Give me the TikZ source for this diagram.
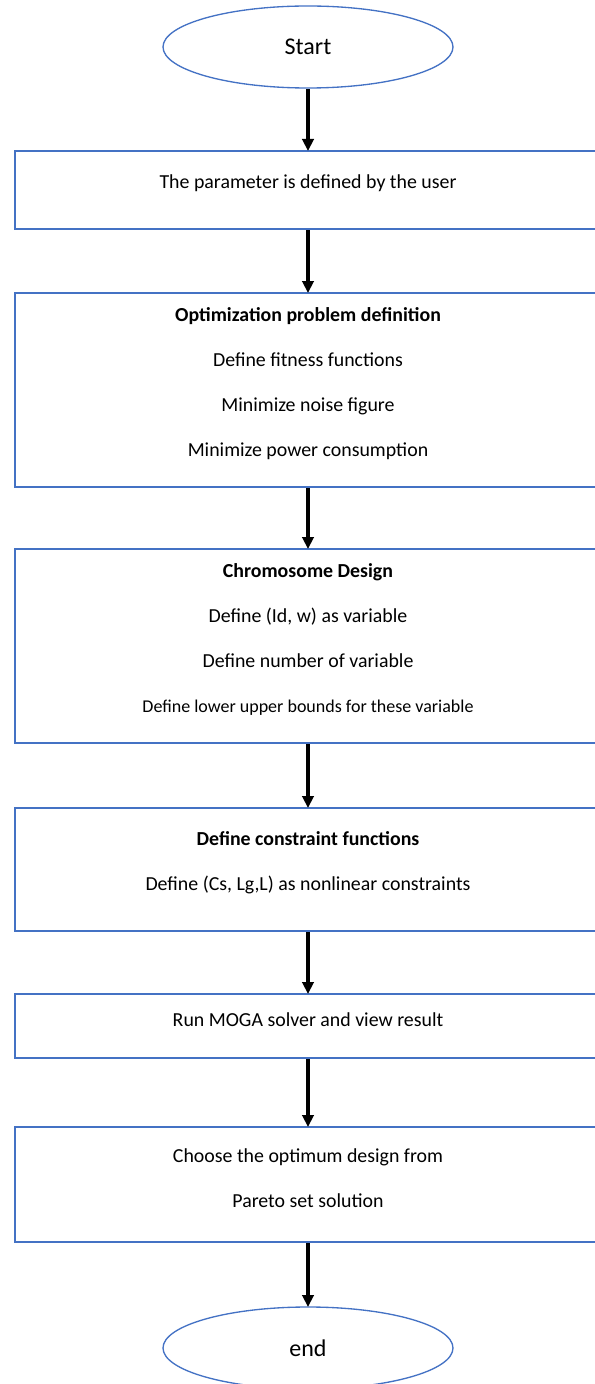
\documentclass[tikz,border=0pt]{standalone}
\usepackage{fontspec}
\setmainfont{Carlito}
\usetikzlibrary{arrows.meta,positioning,shapes.geometric}
\definecolor{boxblue}{HTML}{4472C4}

\begin{document}
\begin{tikzpicture}[node distance=47pt, every node/.style={font=\fontsize{14.9}{33.75}\selectfont},
 term/.style={draw=boxblue,ellipse,line width=1pt,outer sep=0pt,minimum width=217.5pt,minimum height=61.5pt,inner sep=0pt,font=\fontsize{18}{20}\selectfont},
 stepbox/.style={draw=boxblue,line width=1.2pt,outer sep=0pt,minimum width=439.5pt},
 txt/.style={align=center,inner sep=0pt,yshift=5pt},
 arr/.style={line width=2.8pt,shorten <=1pt,-{Triangle[width=8.5pt,length=9pt]}}]
\useasboundingbox (-231pt,35.25pt) rectangle (215.25pt,-1002.75pt);
\clip (-231pt,35.25pt) rectangle (215.25pt,-1002.75pt);
\node[term] (start) {Start};
\node[stepbox,below=47.25pt of start,minimum height=58.5pt] (user) {};
\node[stepbox,below=48pt of user,minimum height=145.5pt] (optim) {};
\node[stepbox,below=46.5pt of optim,minimum height=145.5pt] (chrom) {};
\node[stepbox,below=48.75pt of chrom,minimum height=92.25pt] (constr) {};
\node[stepbox,below=47.25pt of constr,minimum height=48pt] (moga) {};
\node[stepbox,below=51.75pt of moga,minimum height=86.25pt] (pareto) {};
\node[term,below=48.75pt of pareto] (end) {end};
% box texts
\node[txt] (usertxt) at (user) {The parameter is defined by the user};
\node[txt] (optimtxt) at (optim) {\textbf{Optimization problem definition}\\
 Define fitness functions\\ Minimize noise figure\\ Minimize power consumption};
\node[txt] (chromtxt) at (chrom) {\textbf{Chromosome Design}\\
 Define (Id, w) as variable\\ Define number of variable\\ {\fontsize{13.5}{15}\selectfont Define lower upper bounds for these variable}};
\node[txt] (constrtxt) at (constr) {\textbf{Define constraint functions}\\
 Define (Cs, Lg,L) as nonlinear constraints};
\node[txt] (mogatxt) at (moga) {Run MOGA solver and view result};
\node[txt] (paretotxt) at (pareto) {Choose the optimum design from\\ Pareto set solution};
\foreach \a/\b in {start/user,user/optim,optim/chrom,chrom/constr,constr/moga,moga/pareto,pareto/end}
 {\draw[arr] (\a) -- (\b);}
\end{tikzpicture}
\end{document}
